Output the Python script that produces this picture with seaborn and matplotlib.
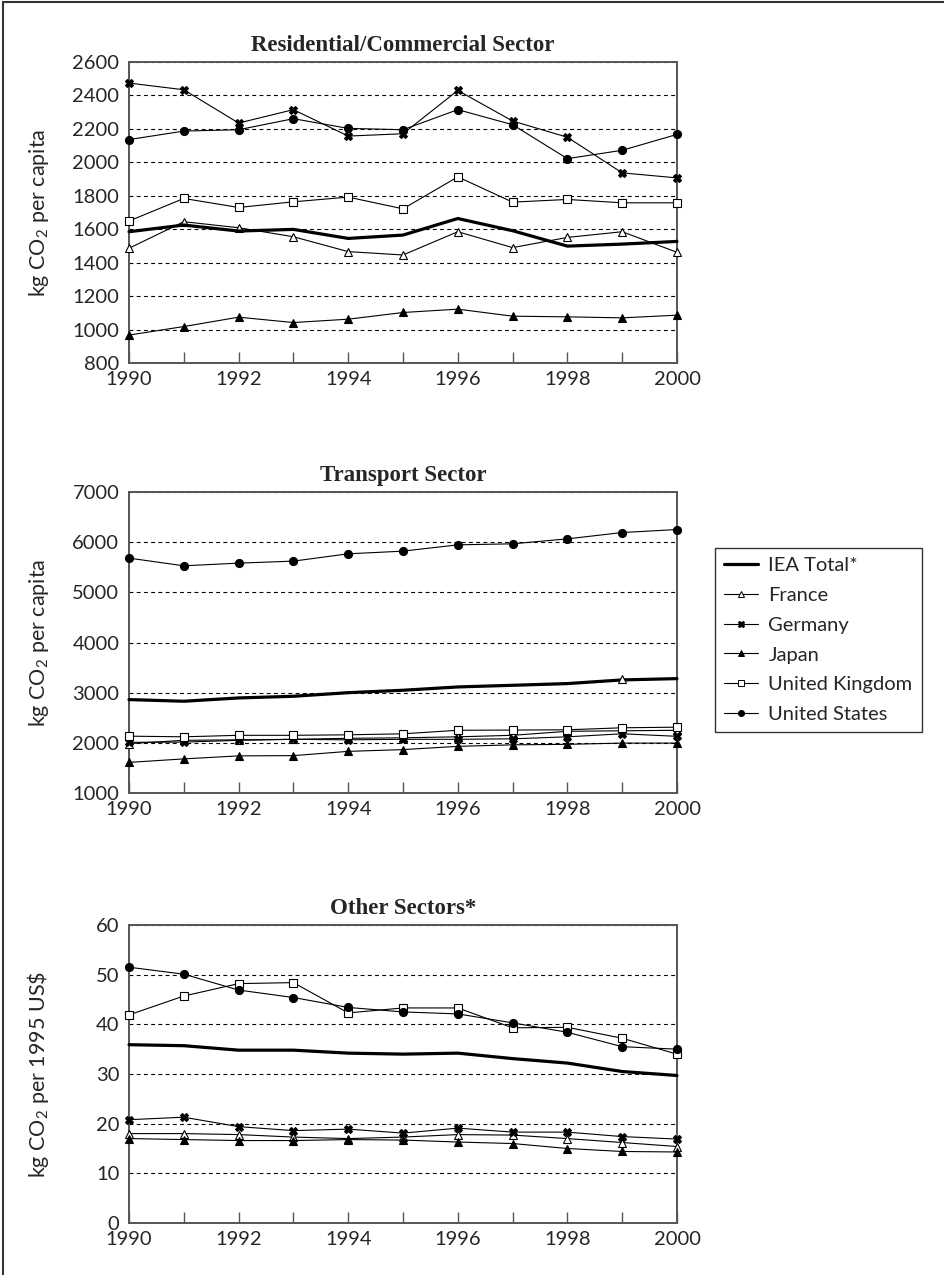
import numpy as np
import matplotlib
matplotlib.use("Agg")
import matplotlib.pyplot as plt
from matplotlib.lines import Line2D
from matplotlib.ticker import MultipleLocator
import seaborn as sns

years = list(range(1990, 2001))
series_names = ["IEA Total*", "France", "Germany", "Japan", "United Kingdom", "United States"]

# Residential/Commercial sector (kg CO2 per capita)
res_iea = [1585, 1625, 1589, 1599, 1545, 1565, 1664, 1591, 1499, 1511, 1527]
res_france = [1486, 1645, 1609, 1555, 1466, 1446, 1585, 1490, 1551, 1585, 1462]
res_germany = [2474, 2434, 2235, 2315, 2157, 2171, 2430, 2247, 2150, 1937, 1907]
res_japan = [967, 1018, 1074, 1042, 1062, 1102, 1122, 1080, 1076, 1070, 1086]
res_uk = [1649, 1784, 1730, 1764, 1792, 1722, 1913, 1762, 1778, 1758, 1758]
res_us = [2136, 2187, 2195, 2261, 2203, 2195, 2315, 2225, 2022, 2072, 2167]

# Transport sector (kg CO2 per capita)
tra_iea = [2862, 2829, 2895, 2928, 3000, 3048, 3114, 3147, 3181, 3254, 3280]
tra_france = [1985, 2050, 2060, 2070, 2090, 2100, 2120, 2150, 2230, None, 2250]
tra_france_1999 = 3265
tra_germany = [2010, 2015, 2050, 2070, 2060, 2070, 2070, 2080, 2120, 2180, 2130]
tra_japan = [1610, 1680, 1740, 1745, 1830, 1865, 1930, 1960, 1970, 1995, 1995]
tra_uk = [2133, 2120, 2150, 2150, 2160, 2180, 2250, 2255, 2260, 2300, 2312]
tra_us = [5682, 5529, 5582, 5622, 5768, 5821, 5947, 5967, 6066, 6192, 6252]

# Other sectors (kg CO2 per 1995 US$)
oth_iea = [35.9, 35.7, 34.8, 34.8, 34.2, 34.0, 34.2, 33.1, 32.2, 30.5, 29.7]
oth_france = [18.0, 18.0, 17.8, 17.3, 17.0, 17.3, 17.8, 17.7, 17.0, 16.2, 15.4]
oth_germany = [20.8, 21.3, 19.4, 18.6, 18.9, 18.1, 19.1, 18.3, 18.3, 17.4, 16.9]
oth_japan = [17.0, 16.8, 16.6, 16.6, 16.8, 16.7, 16.3, 16.0, 15.0, 14.4, 14.3]
oth_uk = [41.9, 45.7, 48.2, 48.4, 42.3, 43.3, 43.3, 39.3, 39.4, 37.2, 34.0]
oth_us = [51.5, 50.1, 46.9, 45.4, 43.4, 42.5, 42.1, 40.3, 38.4, 35.5, 35.0]

panel_titles = ["Residential/Commercial Sector", "Transport Sector", "Other Sectors*"]
panel_ylabels = ["kg CO$_2$ per capita", "kg CO$_2$ per capita", "kg CO$_2$ per 1995 US\\$"]
panel_ylims = [(800, 2600, 200), (1000, 7000, 1000), (0, 60, 10)]

panels = [
    [res_iea, res_france, res_germany, res_japan, res_uk, res_us],
    [tra_iea, tra_france, tra_germany, tra_japan, tra_uk, tra_us],
    [oth_iea, oth_france, oth_germany, oth_japan, oth_uk, oth_us],
]

styles = {
    "IEA Total*": dict(lw=2.3, marker=None),
    "France": dict(lw=0.8, marker="^", markersize=6.2, markerfacecolor="white"),
    "Germany": dict(lw=0.8, marker="X", markersize=6.2, markerfacecolor="black"),
    "Japan": dict(lw=0.8, marker="^", markersize=6.2, markerfacecolor="black"),
    "United Kingdom": dict(lw=0.8, marker="s", markersize=5.8, markerfacecolor="white"),
    "United States": dict(lw=0.8, marker="o", markersize=5.8, markerfacecolor="black"),
}

sns.set_theme(style="white")
plt.rcParams["font.family"] = ["Lato", "DejaVu Sans"]
plt.rcParams["mathtext.default"] = "regular"

W, H = 945, 1275
fig = plt.figure(figsize=(W / 100, H / 100), dpi=100)

ax_left, ax_right = 129, 677
panel_px = [(62, 363), (492, 793), (925, 1223)]
tick_fs = 14.5

def draw_series(ax, name, vals):
    xs = [x for x, v in zip(years, vals) if v is not None]
    ys = [v for v in vals if v is not None]
    st = dict(styles[name])
    kw = dict(color="black", lw=st.pop("lw"), clip_on=False, legend=False,
              zorder=4 if name == "IEA Total*" else 3)
    if st.get("marker"):
        kw.update(markeredgecolor="black", markeredgewidth=0.8)
    kw.update(st)
    sns.lineplot(x=xs, y=ys, ax=ax, **kw)

for i, (top, bot) in enumerate(panel_px):
    ax = fig.add_axes([ax_left / W, 1 - bot / H, (ax_right - ax_left) / W, (bot - top) / H])
    for name, vals in zip(series_names, panels[i]):
        draw_series(ax, name, vals)
    if i == 1:
        st = styles["France"]
        ax.plot([1999], [tra_france_1999], linestyle="none", marker=st["marker"],
                markersize=st["markersize"], markerfacecolor="white",
                markeredgecolor="black", markeredgewidth=0.8, zorder=5)
    lo, hi, step = panel_ylims[i]
    ax.set_xlim(1990, 2000)
    ax.set_ylim(lo, hi)
    ax.yaxis.set_major_locator(MultipleLocator(step))
    ax.xaxis.set_major_locator(MultipleLocator(2))
    ax.xaxis.set_minor_locator(MultipleLocator(1))
    ax.yaxis.grid(True, color="black", linestyle=(0, (3.5, 3)), linewidth=0.8)
    ax.xaxis.grid(False)
    ax.set_axisbelow(True)
    for sp in ax.spines.values():
        sp.set_color("#555555")
        sp.set_linewidth(1.4)
    ax.tick_params(axis="x", which="both", direction="in", length=8, width=1,
                   color="#555555", labelsize=tick_fs, pad=6, bottom=True)
    ax.tick_params(axis="y", length=0, labelsize=tick_fs, pad=7)
    ax.set_xlabel("")
    ax.set_ylabel(panel_ylabels[i], fontsize=15.5)
    ax.yaxis.set_label_coords(-0.142, 0.5)
    ax.set_title(panel_titles[i], fontsize=16.5, fontweight="bold",
                 family="Liberation Serif", pad=8)

# Legend with one handle per series
handles = []
for name in series_names:
    st = styles[name]
    if st.get("marker"):
        h = Line2D([], [], color="black", lw=0.8, marker=st["marker"],
                   markersize=st["markersize"] * 0.75, markerfacecolor=st["markerfacecolor"],
                   markeredgecolor="black", markeredgewidth=0.7)
    else:
        h = Line2D([], [], color="black", lw=2.3)
    handles.append(h)
leg = fig.legend(handles, series_names, loc="upper left",
                 bbox_to_anchor=(715 / W, 1 - 548 / H), fontsize=14.5,
                 frameon=True, fancybox=False, handlelength=1.7,
                 handletextpad=0.5, labelspacing=0.63, borderpad=0.45,
                 borderaxespad=0)
leg.get_frame().set_edgecolor("black")
leg.get_frame().set_linewidth(1.0)

# Page frame along the top and left edges
fig.add_artist(Line2D([3 / W, 1], [1 - 2 / H, 1 - 2 / H], color="#333333", lw=1.5))
fig.add_artist(Line2D([3 / W, 3 / W], [0, 1 - 2 / H], color="#333333", lw=1.5))

fig.savefig("out.png", dpi=100)
